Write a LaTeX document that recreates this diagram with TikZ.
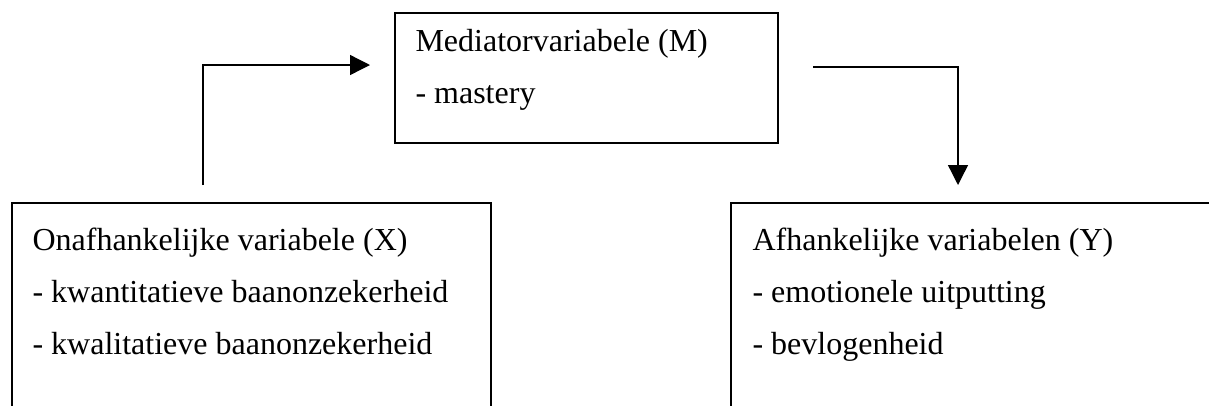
\documentclass[tikz,border=0pt]{standalone}
\usepackage{fontspec}
\setmainfont{Liberation Serif}
\usetikzlibrary{arrows.meta}
\tikzset{
  varbox/.style={draw, rectangle, line width=0.6pt, anchor=north west, inner sep=0pt},
  textline/.style={anchor=base west, inner sep=0pt, font=\fontsize{12}{14}\selectfont},
  arr/.style={-{Triangle[length=7.5pt, width=7.5pt]}, line width=0.5pt}
}
\begin{document}
\begin{tikzpicture}[x=0.375pt, y=-0.375pt]
	\useasboundingbox (0,0) rectangle (1209,405);
	\clip (0,0) rectangle (1209,405);

	% Mediator box
	\node[varbox, minimum width=143.6pt, minimum height=48.75pt] (mbox) at (394,12) {};
	\node[textline] (mtitle) at (415,51) {Mediatorvariabele (M)};
	\node[textline] (mitem) at (415,103) {- mastery};

	% Independent variable box
	\node[varbox, minimum width=179.6pt, minimum height=100pt] (xbox) at (11,202) {};
	\node[textline] (xtitle) at (32,250) {Onafhankelijke variabele (X)};
	\node[textline] (xitem1) at (32,302) {- kwantitatieve baanonzekerheid};
	\node[textline] (xitem2) at (32,354) {- kwalitatieve baanonzekerheid};

	% Dependent variables box
	\node[varbox, minimum width=190pt, minimum height=100pt] (ybox) at (730,202) {};
	\node[textline] (ytitle) at (752,250) {Afhankelijke variabelen (Y)};
	\node[textline] (yitem1) at (752,302) {- emotionele uitputting};
	\node[textline] (yitem2) at (752,354) {- bevlogenheid};

	% Arrows
	\coordinate (xout) at (203,185);
	\coordinate (min) at (370,65);
	\draw[arr] (xout) |- (min);

	\coordinate (mout) at (813,67);
	\coordinate (yin) at (958,185);
	\draw[arr] (mout) -| (yin);
\end{tikzpicture}
\end{document}
